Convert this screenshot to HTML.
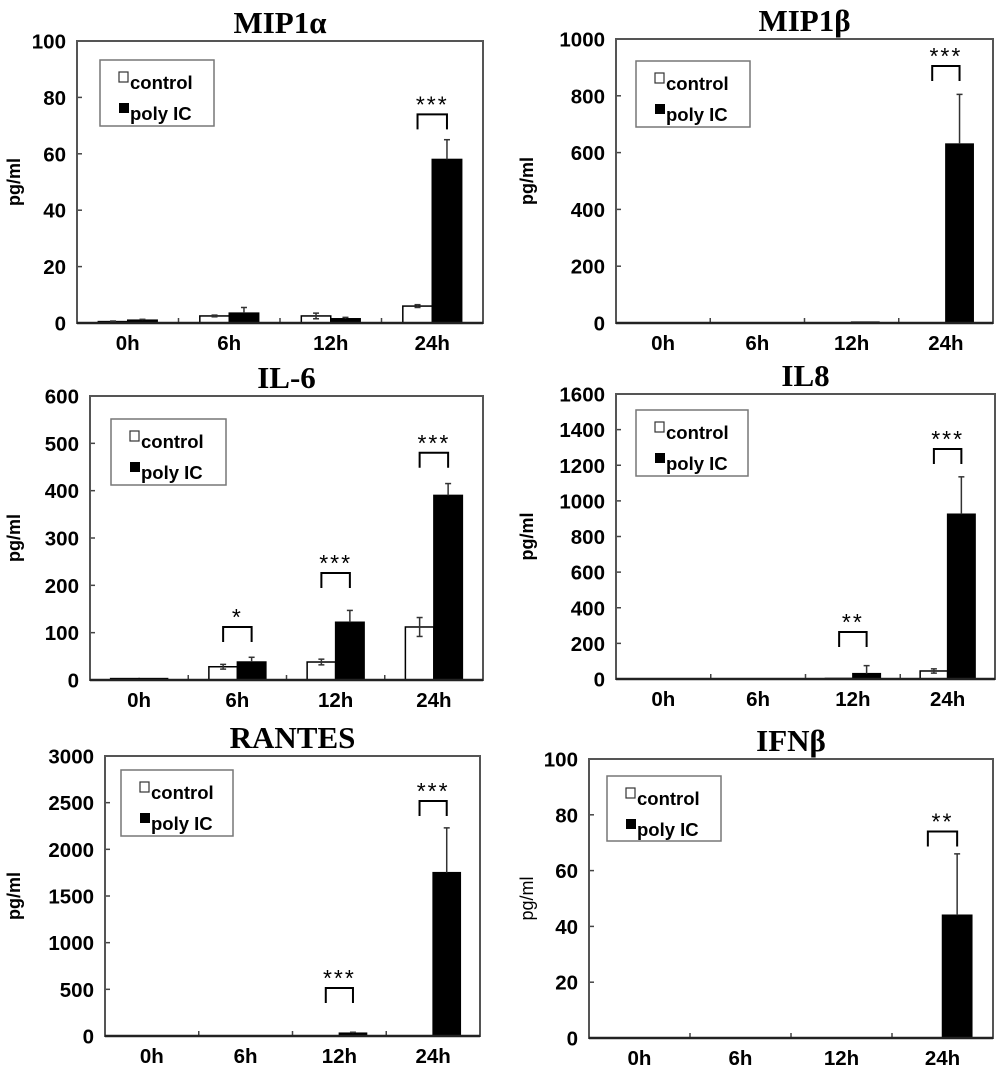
<!DOCTYPE html>
<html><head><meta charset="utf-8"><style>
html,body{margin:0;padding:0;background:#fff;}
svg{display:block;}
text{font-family:"Liberation Sans",sans-serif;}
</style></head><body>
<svg id="fig" width="1000" height="1068" viewBox="0 0 1000 1068"></svg>
<script>
const timeCategories = ["0h","6h","12h","24h"];
const panelTitles = ["MIP1\u03b1","MIP1\u03b2","IL-6","IL8","RANTES","IFN\u03b2"];
const axisMax = [100,1000,600,1600,3000,100];
const tickStep = [20,200,100,200,500,20];
const mip1aControl = [0.5,2.5,2.5,6];
const mip1aControlErr = [0.2,0.3,1,0.5];
const mip1aPoly = [1,3.5,1.5,58];
const mip1aPolyErr = [0.3,2,0.5,7];
const mip1bControl = [0,0,0,0];
const mip1bControlErr = [0,0,0,0];
const mip1bPoly = [0,0,3,630];
const mip1bPolyErr = [0,0,0,175];
const il6Control = [3,28,38,112];
const il6ControlErr = [0,5,6,20];
const il6Poly = [3,38,122,390];
const il6PolyErr = [0,10,25,25];
const il8Control = [0,0,3,45];
const il8ControlErr = [0,0,0,12];
const il8Poly = [0,0,30,925];
const il8PolyErr = [0,0,45,210];
const rantesControl = [0,0,0,0];
const rantesControlErr = [0,0,0,0];
const rantesPoly = [0,0,30,1750];
const rantesPolyErr = [0,0,10,480];
const ifnbControl = [0,0,0,0];
const ifnbControlErr = [0,0,0,0];
const ifnbPoly = [0,0,0,44];
const ifnbPolyErr = [0,0,0,22];
// significance: [group index, bracket top value, label]
const mip1aSig = [[3,74,"***"]];
const mip1bSig = [[3,905,"***"]];
const il6Sig = [[1,112,"*"],[2,226,"***"],[3,480,"***"]];
const il8Sig = [[2,264,"**"],[3,1291,"***"]];
const rantesSig = [[2,514,"***"],[3,2518,"***"]];
const ifnbSig = [[3,74,"**"]];

const panels = [
 {box:[77,41,483,323],leg:[100,60,214,126],yt:20,ytBold:true,c:mip1aControl,ce:mip1aControlErr,p:mip1aPoly,pe:mip1aPolyErr,s:mip1aSig,name:"mip1a"},
 {box:[616,39,993,323],leg:[636,61,750,127],yt:533,ytBold:true,c:mip1bControl,ce:mip1bControlErr,p:mip1bPoly,pe:mip1bPolyErr,s:mip1bSig,name:"mip1b"},
 {box:[90,396,483,680],leg:[111,419,226,485],yt:20,ytBold:true,c:il6Control,ce:il6ControlErr,p:il6Poly,pe:il6PolyErr,s:il6Sig,name:"il6"},
 {box:[616,394,995,679],leg:[636,410,748,476],yt:533,ytBold:true,c:il8Control,ce:il8ControlErr,p:il8Poly,pe:il8PolyErr,s:il8Sig,name:"il8"},
 {box:[105,756,480,1036],leg:[121,770,233,836],yt:20,ytBold:true,c:rantesControl,ce:rantesControlErr,p:rantesPoly,pe:rantesPolyErr,s:rantesSig,name:"rantes"},
 {box:[589,759,993,1038],leg:[607,776,721,841],yt:533,ytBold:false,c:ifnbControl,ce:ifnbControlErr,p:ifnbPoly,pe:ifnbPolyErr,s:ifnbSig,name:"ifnb"}
];
const NS="http://www.w3.org/2000/svg";
const svg=document.getElementById('fig');
function mk(tag,attrs,parent,txt){const e=document.createElementNS(NS,tag);for(const k in attrs)e.setAttribute(k,attrs[k]);if(txt!==undefined)e.textContent=txt;parent.appendChild(e);return e;}
panels.forEach((P,pi)=>{
  const [x0,y0,x1,y1]=P.box;
  const g=mk('g',{},svg);
  
  
  const ys=v=>y1-(v/axisMax[pi])*(y1-y0);
  const gw=(x1-x0)/4;
  const xc=i=>x0+gw*(i+0.5);
  const bw=gw*0.29;
  const t=mk('text',{x:(x0+x1)/2,y:y0-8,'text-anchor':'middle','font-size':31,'font-weight':'bold',style:'font-family:"Liberation Serif",serif'},g,panelTitles[pi]);
  
  
  for(let v=0;v<=axisMax[pi]+1e-9;v+=tickStep[pi]){
    const y=ys(v);
    mk('line',{x1:x0,x2:x0+5,y1:y,y2:y,stroke:'#444','stroke-width':1.5},g);
    const tl=mk('text',{x:x0-11,y:y+7.5,'text-anchor':'end','font-size':20.5,'font-weight':'bold'},g,String(v));
    
    
  }
  for(let i=1;i<4;i++){const x=x0+gw*i;mk('line',{x1:x,x2:x,y1:y1,y2:y1-5,stroke:'#444','stroke-width':1.5},g);}
  timeCategories.forEach((c,i)=>{
    const xl=mk('text',{x:xc(i),y:y1+27,'text-anchor':'middle','font-size':20.5,'font-weight':'bold'},g,c);
    
    
  });
  const ytx=P.yt, yty=(y0+y1)/2;
  const yt=mk('text',{x:ytx,y:yty,'text-anchor':'middle','font-size':18,'font-weight':P.ytBold?'bold':'normal',transform:`rotate(-90 ${ytx} ${yty})`},g,'pg/ml');
  
  
  timeCategories.forEach((c,i)=>{
    const cx=xc(i);
    [[P.c,P.ce,cx-bw,'#fff','control'],[P.p,P.pe,cx,'#000','polyic']].forEach(([arr,err,bx,fill,nm])=>{
      const v=arr[i]; if(v<=0) return;
      const top=ys(v);
      const r=mk('rect',{x:bx,y:top,width:bw,height:y1-top,fill:fill,stroke:'#000','stroke-width':1.5},g);
      
      
      const e=err[i];
      if(e>0){const ex=bx+bw/2, et=ys(v+e);
        mk('line',{x1:ex,x2:ex,y1:top,y2:et,stroke:'#333','stroke-width':1.5},g);
        mk('line',{x1:ex-3,x2:ex+3,y1:et,y2:et,stroke:'#333','stroke-width':1.5},g);
        if(fill==='#fff'){const eb=ys(Math.max(0,v-e));mk('line',{x1:ex,x2:ex,y1:top,y2:eb,stroke:'#333','stroke-width':1.5},g);mk('line',{x1:ex-3,x2:ex+3,y1:eb,y2:eb,stroke:'#333','stroke-width':1.5},g);}
      }
    });
  });
  P.s.forEach(([i,v,lab])=>{
    const a=xc(i)-bw/2,b=xc(i)+bw/2,y=ys(v);
    const pth=mk('path',{d:`M${a},${y+15}V${y}H${b}V${y+15}`,fill:'none',stroke:'#000','stroke-width':2},g);
    
    
    const st=mk('text',{x:(a+b)/2,y:y-2,'text-anchor':'middle','font-size':23,'letter-spacing':'2'},g,lab);
    
    
  });
  mk('rect',{x:x0,y:y0,width:x1-x0,height:y1-y0,fill:'none',stroke:'#555','stroke-width':2},g);
  mk('line',{x1:x0,x2:x1,y1:y1,y2:y1,stroke:'#222','stroke-width':2.5},g);
  const [lx0,ly0,lx1,ly1]=P.leg;
  const lg=mk('g',{},g);
  
  
  mk('rect',{x:lx0,y:ly0,width:lx1-lx0,height:ly1-ly0,fill:'#fff',stroke:'#777','stroke-width':1.5},lg);
  const e1=mk('g',{},lg);
  
  
  mk('rect',{x:lx0+19,y:ly0+12,width:9,height:10,fill:'#fff',stroke:'#333','stroke-width':1.2},e1);
  mk('text',{x:lx0+30,y:ly0+29,'font-size':18.5,'font-weight':'bold'},e1,'control');
  const e2=mk('g',{},lg);
  
  
  mk('rect',{x:lx0+19,y:ly0+43,width:10,height:10,fill:'#000'},e2);
  mk('text',{x:lx0+30,y:ly0+60,'font-size':18.5,'font-weight':'bold'},e2,'poly IC');
});
</script>
</body></html>
